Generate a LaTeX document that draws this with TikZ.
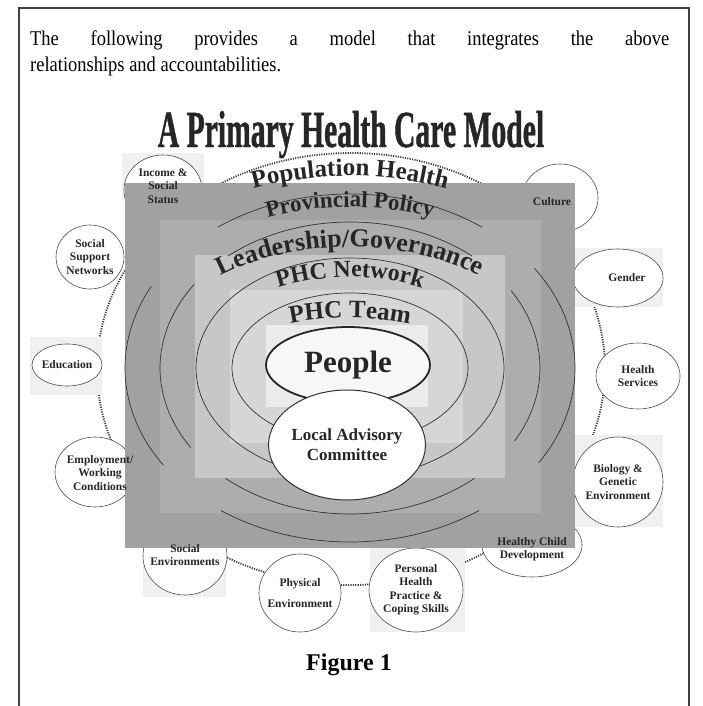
\documentclass[tikz,border=0pt]{standalone}
\usepackage{fontspec}
\setmainfont{Liberation Serif}
\newfontfamily\bodyfont{Liberation Serif}[FakeStretch=0.88]
\newfontfamily\condfont{Liberation Serif}[FakeStretch=0.57, FakeBold=0.8]
\usetikzlibrary{shapes.geometric,decorations.text}
\definecolor{band1}{gray}{0.63}
\definecolor{band2}{gray}{0.68}
\definecolor{band3}{gray}{0.78}
\definecolor{band4}{gray}{0.84}
\definecolor{band5}{gray}{0.92}
\newcommand\arcfont[1]{\fontsize{#1}{#1}\selectfont\bfseries}

\begin{document}
\begin{tikzpicture}[x=1pt, y=1pt,
    factor/.style={ellipse, draw=black!70, fill=white, line width=0.6pt, inner sep=-4pt, align=center,
      font=\fontsize{11.5}{13.5}\selectfont\bfseries, text=black!85},
    tag/.style={inner sep=0pt, align=center, font=\fontsize{11.5}{13.5}\selectfont\bfseries, text=black!85},
    patch/.style={fill=black!6},
    ring/.style={draw=black!80, line width=0.7pt},
    trail/.style={draw=black!75, line width=1.8pt, dash pattern=on 1.2pt off 1.2pt},
    arctext/.style={decorate, decoration={text along path, text align=center, text color=black!85, text={#1}}}]
  \useasboundingbox (0,-706) rectangle (702,0);

  \draw[line width=1.5pt, draw=black!75] (19,-706) -- (19,-8) -- (689,-8) -- (689,-706);
  \node[anchor=base west, inner sep=0pt, font=\bodyfont\fontsize{21}{26}\selectfont] (intro1) at (30,-46)
    {\makebox[639pt][s]{The following provides a model that integrates the above}};
  \node[anchor=base west, inner sep=0pt, font=\bodyfont\fontsize{21}{26}\selectfont] (intro2) at (30,-72)
    {relationships and accountabilities.};
  \node[anchor=base, inner sep=0pt, text=black!85, font=\condfont\bfseries\fontsize{52}{52}\selectfont] (title) at (351,-147)
    {A Primary Health Care Model};
  \node[anchor=base, inner sep=0pt, font=\bfseries\fontsize{24}{24}\selectfont] (fig) at (349,-670) {Figure 1};

  \coordinate (hub) at (351,-369);
  \coordinate (core) at (350,-368);
  \draw[trail] (hub) ellipse [x radius=254, y radius=216];

  \fill[patch] (122,-153) rectangle (204,-200);
  \fill[patch] (30,-337) rectangle (102,-395);
  \fill[patch] (575,-248) rectangle (663,-307);
  \fill[patch] (575,-435) rectangle (663,-527);
  \fill[patch] (370,-547) rectangle (465,-632);
  \fill[patch] (143,-540) rectangle (226,-597);

  \node[factor, minimum width=78pt, minimum height=70pt] (inc) at (163,-190) {};
  \node[factor, minimum width=76pt, minimum height=68pt] (cul) at (560,-198) {};
  \node[factor, minimum width=68pt, minimum height=64pt] (ssn) at (90,-257) {Social\\Support\\Networks};
  \node[factor, minimum width=70pt, minimum height=42pt] (edu) at (67,-365) {Education};
  \node[factor, minimum width=80pt, minimum height=70pt] (emp) at (95,-472) {};
  \node[factor, minimum width=84pt, minimum height=78pt] (soc) at (185,-556) {};
  \node[factor, minimum width=82pt, minimum height=78pt] (phy) at (300,-593) {Physical\\[7pt]Environment};
  \node[factor, minimum width=94pt, minimum height=84pt] (per) at (416,-590) {Personal\\Health\\Practice \&\\Coping Skills};
  \node[factor, minimum width=100pt, minimum height=64pt] (hcd) at (532,-545) {};
  \node[factor, minimum width=90pt, minimum height=90pt] (bio) at (618,-482) {Biology \&\\Genetic\\Environment};
  \node[factor, minimum width=84pt, minimum height=66pt] (hsv) at (638,-376) {Health\\Services};
  \node[factor, minimum width=90pt, minimum height=58pt] (gen) at (618,-278) {\hspace*{18pt}Gender};

  \fill[band1] (125,-183) rectangle (575,-548);
  \fill[band2] (160,-220) rectangle (541,-513);
  \fill[band3] (195,-255) rectangle (505,-478);
  \fill[band4] (230,-290) rectangle (463,-443);
  \fill[band5] (266,-325) rectangle (428,-407);

  \node[tag] (incT) at (163,-186) {Income \&\\Social\\Status};
  \node[tag] (culT) at (552,-202) {Culture};
  \node[tag] (empT) at (100,-473) {Employment/\\Working\\Conditions};
  \node[tag] (socT) at (185,-555) {Social\\Environments};
  \node[tag] (hcdT) at (532,-549) {Healthy Child\\Development};

  \foreach \a/\b in {54/126,152/214,235/305,-33/35}
    \draw[ring] (core) ++(\a:225 and 174) arc[start angle=\a, end angle=\b, x radius=225, y radius=174];
  \foreach \a/\b in {50/130,145/213,229/311,-30/32}
    \draw[ring] (core) ++(\a:190 and 146) arc[start angle=\a, end angle=\b, x radius=190, y radius=146];
  \draw[ring] (core) ellipse [x radius=154, y radius=110];
  \draw[ring] (core) ellipse [x radius=118, y radius=75];

  \node[ellipse, draw=black!85, line width=1.8pt, fill=black!3, minimum width=164pt, minimum height=76pt,
    inner sep=0pt, text=black!85, font=\arcfont{31}] (ppl) at (348,-365) {People};
  \node[ellipse, draw=black!80, line width=1pt, fill=white, minimum width=152pt, minimum height=110pt,
    inner sep=0pt, align=center, text=black!85, font=\fontsize{17}{20}\selectfont\bfseries] (lac) at (347,-445)
    {Local Advisory\\Committee};

  \path[arctext={|\arcfont{25}|Population Health}] (core) ++(160:271 and 192)
    arc[start angle=160, end angle=20, x radius=271, y radius=192];
  \path[arctext={|\arcfont{23}|Provincial Policy}] (core) ++(160:233 and 161)
    arc[start angle=160, end angle=20, x radius=233, y radius=161];
  \path[arctext={|\arcfont{26}|Leadership/Governance}] (core) ++(170:200 and 121)
    arc[start angle=170, end angle=10, x radius=200, y radius=121];
  \path[arctext={|\arcfont{24}|PHC Network}] (core) ++(160:151 and 91)
    arc[start angle=160, end angle=20, x radius=151, y radius=91];
  \path[arctext={|\arcfont{25}|PHC Team}] (core) ++(160:128 and 50)
    arc[start angle=160, end angle=20, x radius=128, y radius=50];
\end{tikzpicture}
\end{document}
